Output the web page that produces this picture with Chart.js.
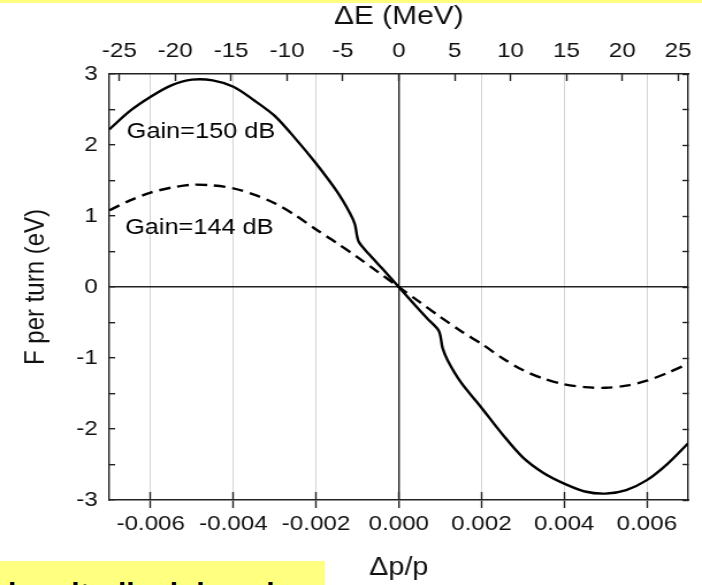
<!DOCTYPE html>
<html>
<head>
<meta charset="utf-8">
<script src="https://cdn.jsdelivr.net/npm/chart.js@4/dist/chart.umd.min.js"></script>
<style>
    html, body { margin: 0; padding: 0; background: #fff; }
    #wrap { position: relative; width: 702px; height: 585px; overflow: hidden; }
    #forceChart { position: absolute; left: 0; top: 0; }
    #topBand { position: absolute; left: 0; top: 0; width: 702px; height: 3px; background: #ffff80; }
    #noteBox { position: absolute; left: 0; top: 561px; width: 325px; height: 24px; background: #ffff80; overflow: hidden; }
    #noteText {
        position: absolute; left: 8px; top: 18px; margin: 0; padding: 0;
        font-family: "Liberation Sans", Arial, sans-serif; font-weight: bold; font-size: 30px; line-height: 30px;
        color: #000; white-space: nowrap;
    }
</style>
</head>
<body>
<div id="wrap">
    <!-- the source figure is drawn a bit wider than tall, so the canvas is stretched horizontally -->
    <canvas id="forceChart" width="610" height="585" style="width:702px;height:585px"></canvas>
    <div id="topBand"></div>
    <div id="noteBox"><div id="noteText">longitudinal damping at</div></div>
</div>
<script>
const FONT = '"Liberation Sans", Arial, sans-serif';

// momentum deviation (x) and force per turn (eV) for each gain
const dpGain150 = [-0.007, -0.0065, -0.006, -0.0055, -0.005, -0.0045, -0.004, -0.0035, -0.003, -0.0025, -0.002, -0.0015, -0.00118, -0.00106, -0.00097, -0.0007, -0.0004, 0,
    0.0004, 0.0007, 0.00097, 0.00106, 0.00118, 0.0015, 0.002, 0.0025, 0.003, 0.0035, 0.004, 0.0045, 0.005, 0.0055, 0.006, 0.0065, 0.007];
const fGain150 = [2.22, 2.48, 2.68, 2.84, 2.92, 2.91, 2.82, 2.63, 2.41, 2.09, 1.74, 1.35, 1.04, 0.88, 0.64, 0.45, 0.26, 0,
    -0.26, -0.45, -0.62, -0.86, -1.03, -1.34, -1.70, -2.07, -2.40, -2.62, -2.77, -2.88, -2.91, -2.86, -2.72, -2.49, -2.20];

const dpGain144 = [-0.007, -0.0065, -0.006, -0.0055, -0.005, -0.0045, -0.004, -0.0035, -0.003, -0.0025, -0.002, -0.0015, -0.001, -0.0005, 0,
    0.0005, 0.001, 0.0015, 0.002, 0.0025, 0.003, 0.0035, 0.004, 0.0045, 0.005, 0.0055, 0.006, 0.0065, 0.007];
const fGain144 = [1.08, 1.22, 1.33, 1.40, 1.44, 1.43, 1.39, 1.30, 1.18, 1.01, 0.81, 0.62, 0.42, 0.21, 0,
    -0.21, -0.42, -0.62, -0.80, -1.00, -1.17, -1.29, -1.37, -1.41, -1.42, -1.39, -1.32, -1.21, -1.08];

const dpTicks = [-0.006, -0.004, -0.002, 0, 0.002, 0.004, 0.006];
const energyTicks = [-25, -20, -15, -10, -5, 0, 5, 10, 15, 20, 25];
const beamEnergyMeV = 3700;
const dpMax = 0.007;

const curveLabels = [
    { text: "Gain=150 dB", x: -0.00658, y: 2.18 },
    { text: "Gain=144 dB", x: -0.00662, y: 0.83 }
];

const AXIS = "#222";

function toPoints(xs, ys) {
    return xs.map((x, i) => ({ x, y: ys[i] }));
}

function fixedTicks(values) {
    return axis => { axis.ticks = values.map(value => ({ value })); };
}

// force a fixed box size and drop the label overflow padding
function boxSize(w, h) {
    return s => {
        if (w !== null) s.width = w;
        if (h !== null) s.height = h;
        s.paddingLeft = 0; s.paddingRight = 0; s.paddingTop = 0; s.paddingBottom = 0;
    };
}

const curveLabelPlugin = {
    id: "curveLabels",
    afterDatasetsDraw(chart) {
        const { ctx, scales } = chart;
        ctx.save();
        ctx.font = `22px ${FONT}`;
        ctx.fillStyle = "#000";
        ctx.textBaseline = "middle";
        ctx.textAlign = "left";
        curveLabels.forEach(l => {
            ctx.fillText(l.text, scales.x.getPixelForValue(l.x), scales.y.getPixelForValue(l.y));
        });
        ctx.restore();
    }
};

new Chart(document.getElementById("forceChart"), {
    type: "line",
    data: {
        datasets: [
            {
                label: "Gain=150 dB",
                data: toPoints(dpGain150, fGain150),
                borderColor: "#000",
                borderWidth: 2.4,
                pointRadius: 0,
                tension: 0.3,
                fill: false
            },
            {
                label: "Gain=144 dB",
                data: toPoints(dpGain144, fGain144),
                borderColor: "#000",
                borderWidth: 2.4,
                borderDash: [10, 6],
                pointRadius: 0,
                tension: 0.3,
                fill: false
            }
        ]
    },
    options: {
        responsive: false,
        animation: false,
        devicePixelRatio: 1,
        layout: { padding: 0 },
        plugins: { legend: { display: false }, tooltip: { enabled: false } },
        scales: {
            x: {
                type: "linear",
                position: "bottom",
                weight: 2,
                min: -dpMax,
                max: dpMax,
                afterBuildTicks: fixedTicks(dpTicks),
                afterFit: boxSize(null, 85),
                grid: {
                    drawOnChartArea: true,
                    color: c => (c.tick && c.tick.value === 0 ? AXIS : "#d4d4d4"),
                    lineWidth: c => (c.tick && c.tick.value === 0 ? 1.4 : 1),
                    tickColor: AXIS,
                    tickWidth: 1.4,
                    tickLength: 8
                },
                border: { display: true, color: AXIS, width: 1.5 },
                ticks: {
                    color: "#111",
                    font: { family: FONT, size: 21 },
                    padding: 4,
                    maxRotation: 0,
                    callback: v => v.toFixed(3)
                },
                title: {
                    display: true,
                    text: "Δp/p",
                    color: "#111",
                    font: { family: FONT, size: 25 },
                    padding: { top: 0, bottom: 2 }
                }
            },
            xIn: {
                type: "linear",
                position: "bottom",
                weight: 0,
                min: -dpMax,
                max: dpMax,
                afterBuildTicks: fixedTicks(dpTicks),
                afterFit: boxSize(null, 0),
                grid: { drawOnChartArea: false, tickColor: AXIS, tickWidth: 1.4, tickLength: -8 },
                border: { display: false },
                ticks: { display: false }
            },
            x2: {
                type: "linear",
                position: "top",
                min: -dpMax * beamEnergyMeV,
                max: dpMax * beamEnergyMeV,
                afterBuildTicks: fixedTicks(energyTicks),
                afterFit: boxSize(null, 74),
                grid: { drawOnChartArea: false, tickColor: AXIS, tickWidth: 1.4, tickLength: -7 },
                border: { display: true, color: AXIS, width: 1.5 },
                ticks: {
                    color: "#111",
                    font: { family: FONT, size: 21 },
                    padding: 17,
                    maxRotation: 0,
                    callback: v => String(v)
                },
                title: {
                    display: true,
                    text: "ΔE (MeV)",
                    color: "#111",
                    font: { family: FONT, size: 26 },
                    padding: { top: 1, bottom: 0 }
                }
            },
            y: {
                type: "linear",
                position: "left",
                min: -3,
                max: 3,
                afterFit: boxSize(95, null),
                ticks: {
                    stepSize: 0.5,
                    color: "#111",
                    font: { family: FONT, size: 21 },
                    padding: 15,
                    callback: v => (Number.isInteger(v) ? String(v) : "")
                },
                grid: {
                    color: c => (c.tick && c.tick.value === 0 ? AXIS : "rgba(0,0,0,0)"),
                    lineWidth: 1.4,
                    tickColor: AXIS,
                    tickWidth: 1.4,
                    tickLength: -5
                },
                border: { display: true, color: AXIS, width: 1.4 },
                title: {
                    display: true,
                    text: "F per turn (eV)",
                    color: "#111",
                    font: { family: FONT, size: 24 },
                    padding: { top: 17, bottom: 0 }
                }
            },
            y2: {
                type: "linear",
                position: "right",
                min: -3,
                max: 3,
                afterFit: boxSize(12, null),
                ticks: { stepSize: 0.5, display: false },
                grid: { drawOnChartArea: false, tickColor: AXIS, tickWidth: 1.4, tickLength: -5 },
                border: { display: true, color: AXIS, width: 1.4 }
            }
        }
    },
    plugins: [curveLabelPlugin]
});
</script>
</body>
</html>
